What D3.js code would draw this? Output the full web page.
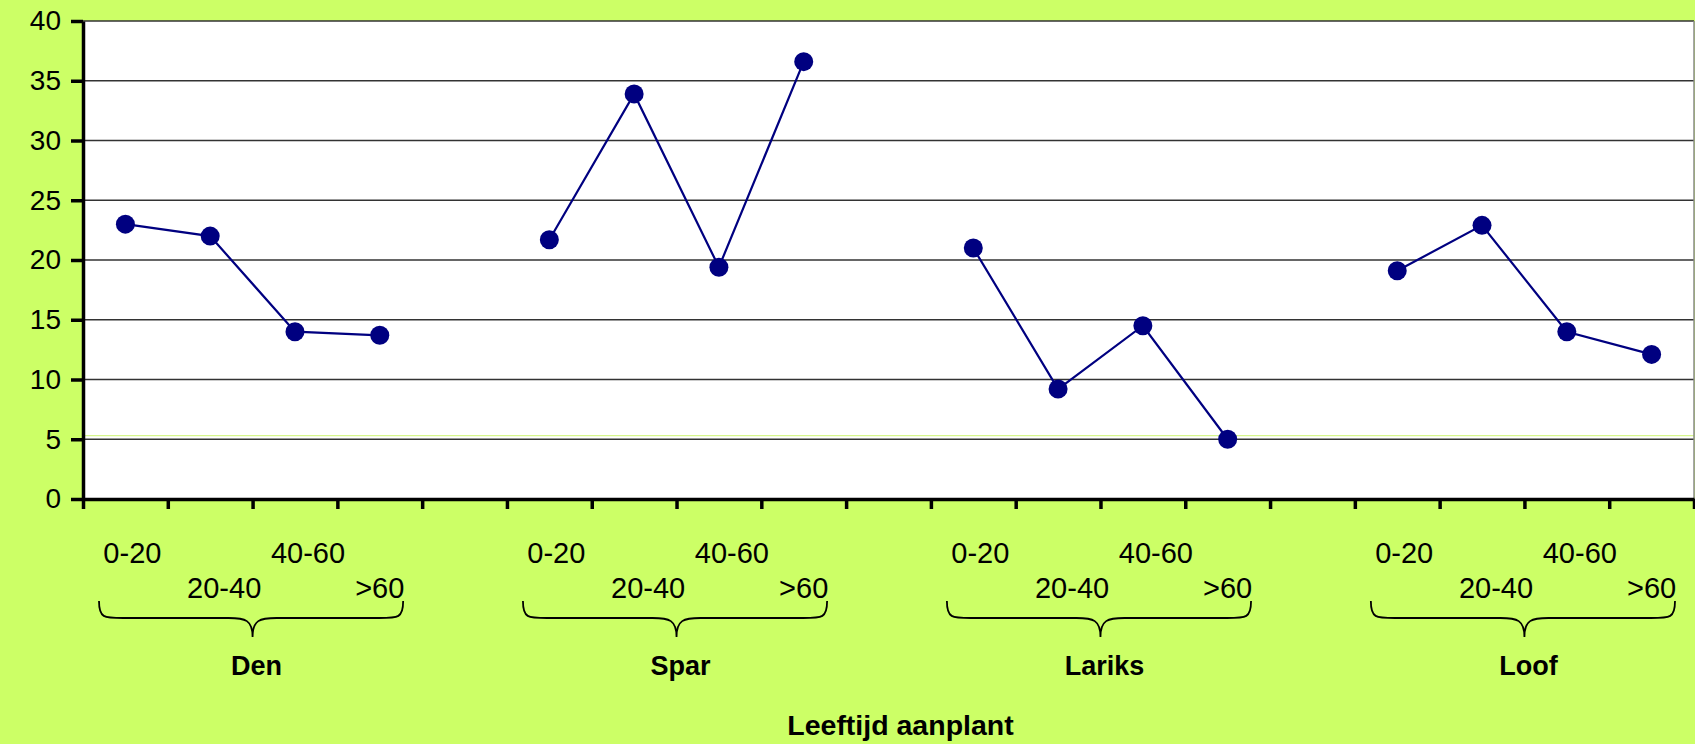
<!DOCTYPE html>
<html>
<head>
<meta charset="utf-8">
<script src="https://cdn.jsdelivr.net/npm/d3@7"></script>
<style>
  html, body { margin: 0; padding: 0; background: #CCFF66; }
  svg { display: block; }
  text { font-family: "Liberation Sans", Arial, sans-serif; fill: #000; }
</style>
</head>
<body>
<svg id="chart" width="1695" height="744"></svg>
<script>
// Tree species groups and planting-age classes
const groups = ["Den", "Spar", "Lariks", "Loof"];
const ageClasses = ["0-20", "20-40", "40-60", ">60"];

// Values per group, in age-class order
const denValues    = [23.0, 22.0, 14.0, 13.7];
const sparValues   = [21.7, 33.9, 19.4, 36.6];
const lariksValues = [21.0,  9.2, 14.5,  5.0];
const loofValues   = [19.1, 22.9, 14.0, 12.1];
const seriesValues = [denValues, sparValues, lariksValues, loofValues];

const yTicks = [0, 5, 10, 15, 20, 25, 30, 35, 40];
const xTitle = "Leeftijd aanplant";
const markerLine = 5.3; // pale reference line just above the 5 gridline

const svg = d3.select("#chart");
const plotL = 83, plotR = 1694, plotT = 21, plotB = 499;

// Slots: 4 per group plus an empty spacer between groups
const slots = [];
groups.forEach((g, gi) => {
  ageClasses.forEach((a, ai) => slots.push({ group: g, gi, age: a, ai, value: seriesValues[gi][ai] }));
  if (gi < groups.length - 1) slots.push(null);
});
const nSlots = slots.length;

const xIdx = d3.scaleLinear().domain([0, nSlots]).range([plotL, plotR]);
const y = d3.scaleLinear().domain([0, 40]).range([plotB, plotT]);
const xc = i => xIdx(i + 0.5);

// Plot area
svg.append("rect")
  .attr("x", plotL).attr("y", plotT)
  .attr("width", plotR - plotL).attr("height", plotB - plotT)
  .attr("fill", "#ffffff");

// Gridlines
svg.append("g").selectAll("line").data(yTicks.filter(v => v > 0)).join("line")
  .attr("x1", plotL).attr("x2", plotR)
  .attr("y1", d => y(d)).attr("y2", d => y(d))
  .attr("stroke", "#333333").attr("stroke-width", 1.7);

svg.append("line")
  .attr("x1", plotL).attr("x2", plotR)
  .attr("y1", y(markerLine)).attr("y2", y(markerLine))
  .attr("stroke", "#d6f58c").attr("stroke-width", 1.4);

// Right border
svg.append("line")
  .attr("x1", plotR).attr("x2", plotR).attr("y1", plotT).attr("y2", plotB)
  .attr("stroke", "#8a8a8a").attr("stroke-width", 1.5);

// Y axis
const yAxis = svg.append("g")
  .attr("transform", `translate(${plotL},0)`)
  .call(d3.axisLeft(y).tickValues(yTicks).tickSize(12).tickPadding(10).tickSizeOuter(0));
yAxis.select(".domain").attr("stroke", "#000").attr("stroke-width", 3.5);
yAxis.selectAll(".tick line").attr("stroke", "#000").attr("stroke-width", 3.5);
yAxis.selectAll(".tick text")
  .style("font-family", "'Liberation Sans', Arial, sans-serif")
  .style("font-size", "28px").attr("fill", "#000");

// X axis with ticks on slot boundaries
const xAxis = svg.append("g")
  .attr("transform", `translate(0,${plotB})`)
  .call(d3.axisBottom(xIdx).tickValues(d3.range(nSlots + 1)).tickFormat("").tickSize(10).tickSizeOuter(0));
xAxis.select(".domain").attr("stroke", "#000").attr("stroke-width", 3.5);
xAxis.selectAll(".tick line").attr("stroke", "#000").attr("stroke-width", 3.5);

// Lines, one per group
const line = d3.line().x(d => d.x).y(d => y(d.value));
groups.forEach((g, gi) => {
  const pts = slots.map((s, i) => s && s.gi === gi ? { x: xc(i), value: s.value } : null).filter(Boolean);
  svg.append("path").datum(pts)
    .attr("d", line)
    .attr("fill", "none").attr("stroke", "#000080").attr("stroke-width", 2.2);
});

// Markers
const filled = slots.map((s, i) => s ? Object.assign({ i }, s) : null).filter(Boolean);
svg.append("g").selectAll("circle").data(filled).join("circle")
  .attr("cx", d => xc(d.i)).attr("cy", d => y(d.value)).attr("r", 9.5)
  .attr("fill", "#000080");

// Age class labels, staggered on two rows
const labelDx = [7, 14, 13, 0];
svg.append("g").selectAll("text").data(filled).join("text")
  .attr("x", d => xc(d.i) + labelDx[d.ai])
  .attr("y", d => d.ai % 2 === 0 ? 563 : 598)
  .attr("text-anchor", "middle")
  .style("font-size", "29px")
  .text(d => d.age);

// Braces and group names
groups.forEach((g, gi) => {
  const first = gi * 5, last = gi * 5 + 3;
  const x0 = xIdx(first) + 16, x1 = xIdx(last + 1) - 19;
  const xm = (xIdx(first) + xIdx(last + 1)) / 2;
  const yT = 601, yM = 618, yB = 637, r = 12;
  const p = d3.path();
  p.moveTo(x0, yT);
  p.bezierCurveTo(x0, yM, x0 + r * 0.4, yM, x0 + r * 2, yM);
  p.lineTo(xm - r * 2, yM);
  p.bezierCurveTo(xm - r * 0.6, yM, xm, yM + 2, xm, yB);
  p.moveTo(xm, yB);
  p.bezierCurveTo(xm, yM + 2, xm + r * 0.6, yM, xm + r * 2, yM);
  p.lineTo(x1 - r * 2, yM);
  p.bezierCurveTo(x1 - r * 0.4, yM, x1, yM, x1, yT);
  svg.append("path").attr("d", p.toString())
    .attr("fill", "none").attr("stroke", "#000").attr("stroke-width", 1.8);

  svg.append("text")
    .attr("x", xm + 4).attr("y", 675)
    .attr("text-anchor", "middle")
    .style("font-size", "27px").style("font-weight", "bold")
    .text(g);
});

// Axis title
svg.append("text")
  .attr("x", (plotL + plotR) / 2 + 12).attr("y", 735)
  .attr("text-anchor", "middle")
  .style("font-size", "28.5px").style("font-weight", "bold")
  .text(xTitle);
</script>
</body>
</html>
